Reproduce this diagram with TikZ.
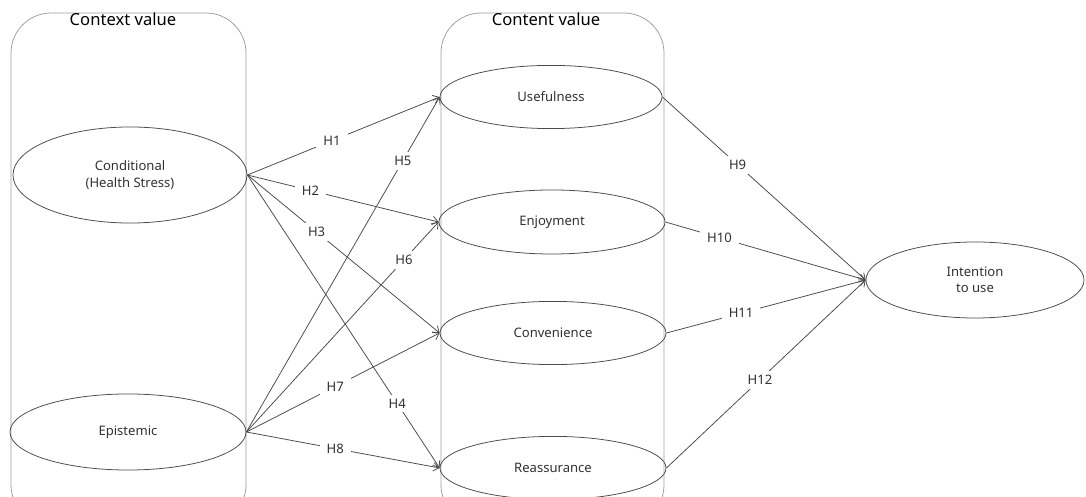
\documentclass[tikz,border=0pt]{standalone}
\usepackage{fontspec}
\setmainfont{Noto Sans}
\usetikzlibrary{shapes.geometric, arrows.meta}

\definecolor{linegray}{RGB}{75,75,75}
\definecolor{boxgray}{RGB}{160,160,160}
\definecolor{textgray}{RGB}{50,50,50}

\tikzset{
    construct/.style={ellipse, draw=linegray, line width=0.55pt, inner sep=0pt, text=textgray, font=\fontsize{9.3}{11.5}\selectfont, align=center},
    group/.style={draw=boxgray, line width=0.55pt, rounded corners=1cm},
    path/.style={draw=linegray, line width=0.55pt, -{Straight Barb[length=4pt, width=6pt]}},
    hyp/.style={fill=white, inner xsep=5pt, inner ysep=3pt, text=textgray, font=\fontsize{9.3}{11}\selectfont}
}

\begin{document}
\begin{tikzpicture}[x=0.025cm, y=-0.025cm]
    \useasboundingbox (0,0) rectangle (1086,497);
    \clip (0,0) rectangle (1086,497);

    % Group frames
    \draw[group] (11,13) rectangle (246,525);
    \draw[group] (441,13) rectangle (664,525);
    \node[text=black, font=\fontsize{11.8}{14}\selectfont] (ctxtitle) at (123,19) {Context value};
    \node[text=black, font=\fontsize{11.8}{14}\selectfont] (cnttitle) at (546,19) {Content value};

    % Context value constructs
    \node[construct, minimum width=5.85cm, minimum height=2.4cm] (cond) at (130,175) {Conditional\\(Health Stress)};
    \node[construct, minimum width=5.9cm, minimum height=1.9cm] (epis) at (128,432) {Epistemic};

    % Content value constructs
    \node[construct, minimum width=5.55cm, minimum height=1.58cm] (usef) at (551,97) {Usefulness};
    \node[construct, minimum width=5.65cm, minimum height=1.6cm] (enjoy) at (552,222) {Enjoyment};
    \node[construct, minimum width=5.65cm, minimum height=1.58cm] (conv) at (553,333) {Convenience};
    \node[construct, minimum width=5.65cm, minimum height=1.58cm] (reas) at (553,468) {Reassurance};

    % Outcome
    \node[construct, minimum width=5.45cm, minimum height=1.9cm] (intent) at (975,280) {Intention\\to use};

    % Hypotheses H1-H4
    \draw[path] (cond.east) -- node[hyp, pos=0.44] (h1) {H1} (usef.west);
    \draw[path] (cond.east) -- node[hyp, pos=0.33] (h2) {H2} (enjoy.west);
    \draw[path] (cond.east) -- node[hyp, pos=0.36] (h3) {H3} (conv.west);
    \draw[path] (cond.east) -- node[hyp, pos=0.78] (h4) {H4} (reas.west);

    % Hypotheses H5-H8
    \draw[path] (epis.east) -- node[hyp, pos=0.81] (h5) {H5} (usef.west);
    \draw[path] (epis.east) -- node[hyp, pos=0.82] (h6) {H6} (enjoy.west);
    \draw[path] (epis.east) -- node[hyp, pos=0.46] (h7) {H7} (conv.west);
    \draw[path] (epis.east) -- node[hyp, pos=0.46] (h8) {H8} (reas.west);

    % Hypotheses H9-H12
    \draw[path] (usef.east) -- node[hyp, pos=0.37] (h9) {H9} (intent.west);
    \draw[path] (enjoy.east) -- node[hyp, pos=0.27] (h10) {H10} (intent.west);
    \draw[path] (conv.east) -- node[hyp, pos=0.375] (h11) {H11} (intent.west);
    \draw[path] (reas.east) -- node[hyp, pos=0.47] (h12) {H12} (intent.west);
\end{tikzpicture}
\end{document}
